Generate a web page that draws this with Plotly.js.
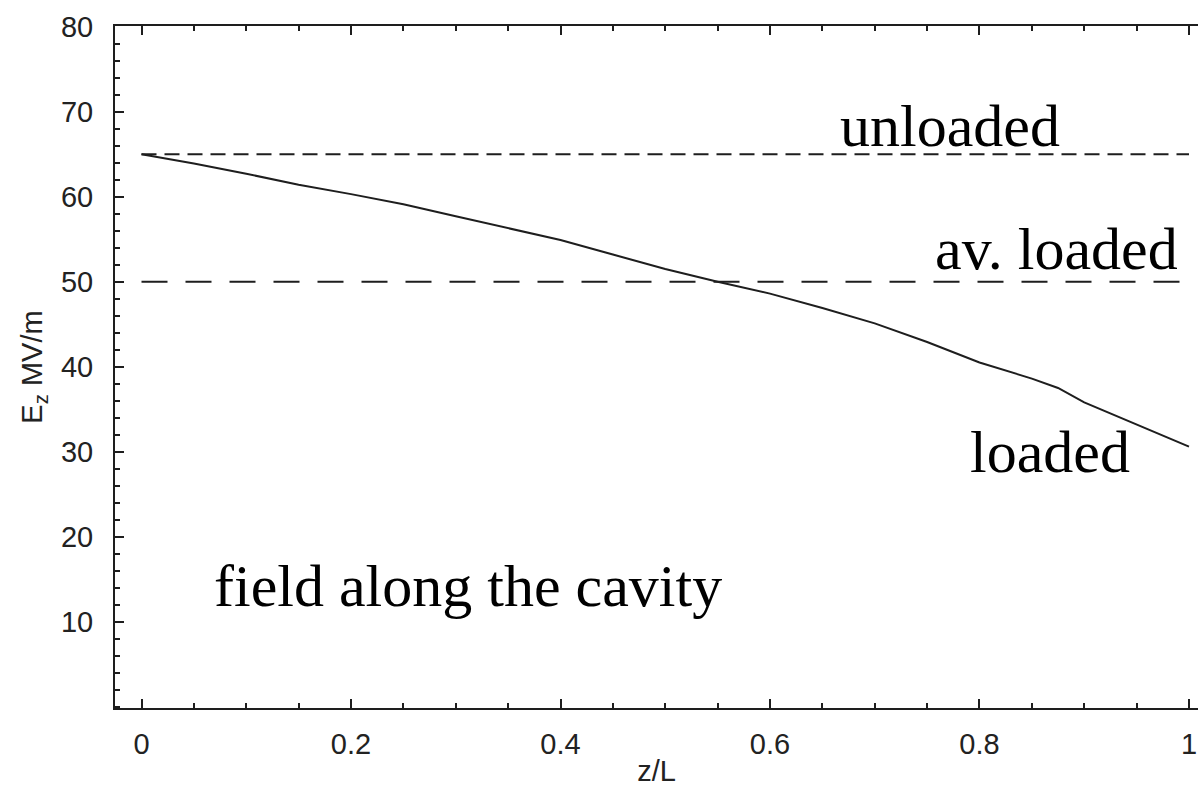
<!DOCTYPE html>
<html>
<head>
<meta charset="utf-8">
<script src="https://cdn.plot.ly/plotly-3.0.1.min.js"></script>
<style>html,body{margin:0;padding:0;overflow:hidden;background:#fff;}</style>
</head>
<body>
<div id="chart" style="width:1198px;height:794px;"></div>
<script>
// position along cavity z/L
const zL = [0, 0.05, 0.1, 0.15, 0.2, 0.25, 0.3, 0.35, 0.4, 0.45, 0.5, 0.55, 0.6, 0.65, 0.7, 0.75, 0.8, 0.85, 0.875, 0.9, 0.95, 1.0];
// loaded field Ez (MV/m)
const loadedEz = [65.0, 63.9, 62.7, 61.4, 60.3, 59.1, 57.7, 56.3, 54.9, 53.2, 51.5, 50.0, 48.6, 46.9, 45.1, 42.9, 40.5, 38.6, 37.5, 35.8, 33.2, 30.6];
// reference levels
const unloadedX = [0, 1];
const unloadedEz = [65, 65];
const avLoadedX = [0, 1];
const avLoadedEz = [50, 50];
// tick labels
const xTickVals = [0, 0.2, 0.4, 0.6, 0.8, 1];
const xTickText = ["0", "0.2", "0.4", "0.6", "0.8", "1"];
const yTickVals = [10, 20, 30, 40, 50, 60, 70, 80];
const yTickText = ["10", "20", "30", "40", "50", "60", "70", "80"];

const ink = '#1e1e1e';
const traces = [
  {x: unloadedX, y: unloadedEz, mode: 'lines', line: {color: ink, width: 2, dash: '15px,8px'}, hoverinfo: 'skip'},
  {x: avLoadedX, y: avLoadedEz, mode: 'lines', line: {color: ink, width: 2, dash: '26px,18px'}, hoverinfo: 'skip'},
  {x: zL, y: loadedEz, mode: 'lines', line: {color: ink, width: 2}}
];

const tickFont = {family: 'Liberation Sans, Arial, sans-serif', size: 29, color: '#222'};
const annFont = {family: 'Liberation Serif, Times New Roman, serif', size: 60, color: '#000'};

const layout = {
  width: 1198, height: 794,
  margin: {l: 115, r: 0, t: 26, b: 86},
  paper_bgcolor: '#fff', plot_bgcolor: '#fff',
  showlegend: false,
  xaxis: {
    range: [-0.0253, 1.0086],
    tickmode: 'array', tickvals: xTickVals, ticktext: xTickText,
    ticks: 'inside', ticklen: 9, tickwidth: 2, tickcolor: ink,
    showline: true, linewidth: 2, linecolor: ink, mirror: 'ticks',
    showgrid: false, zeroline: false,
    tickfont: tickFont, ticklabelstandoff: 9,
    minor: {dtick: 0.05, tick0: 0, ticks: 'inside', ticklen: 5, tickwidth: 2, tickcolor: ink, showgrid: false},
    title: {text: 'z/L', font: tickFont, standoff: 2}
  },
  yaxis: {
    range: [-0.15, 80.08],
    tickmode: 'array', tickvals: yTickVals, ticktext: yTickText,
    ticks: 'inside', ticklen: 9, tickwidth: 2, tickcolor: ink,
    showline: true, linewidth: 2, linecolor: ink, mirror: false,
    showgrid: false, zeroline: false,
    tickfont: tickFont, ticklabelstandoff: 14,
    minor: {dtick: 2, tick0: 0, ticks: 'inside', ticklen: 5, tickwidth: 2, tickcolor: ink, showgrid: false},
    title: {text: 'E<sub>z</sub> MV/m', font: tickFont, standoff: 10}
  },
  annotations: [
    {text: 'unloaded', xref: 'paper', yref: 'paper', x: 0.6676, y: 0.802, xanchor: 'left', yanchor: 'bottom', showarrow: false, font: annFont},
    {text: 'av. loaded', xref: 'paper', yref: 'paper', x: 0.7553, y: 0.6217, xanchor: 'left', yanchor: 'bottom', showarrow: false, font: annFont},
    {text: 'loaded', xref: 'paper', yref: 'paper', x: 0.7876, y: 0.324, xanchor: 'left', yanchor: 'bottom', showarrow: false, font: annFont},
    {text: 'field along the cavity', xref: 'paper', yref: 'paper', x: 0.0896, y: 0.1276, xanchor: 'left', yanchor: 'bottom', showarrow: false, font: annFont}
  ]
};

Plotly.newPlot('chart', traces, layout, {displayModeBar: false, staticPlot: true});
</script>
</body>
</html>
